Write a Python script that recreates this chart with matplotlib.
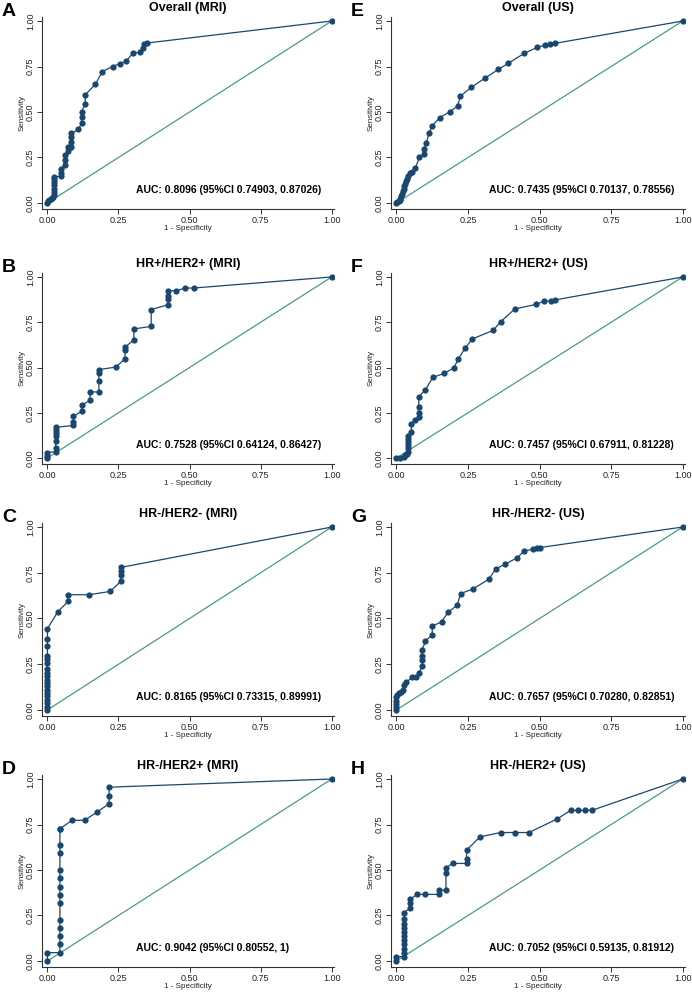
import numpy as np
import matplotlib
matplotlib.use("Agg")
import matplotlib.pyplot as plt

plt.rcParams['font.family'] = ['Liberation Sans', 'DejaVu Sans']

# ROC points (1 - specificity, sensitivity)
a_fpr = [0, 0.002, 0.007, 0.012, 0.016, 0.021, 0.023, 0.023, 0.023, 0.023, 0.023, 0.023, 0.023,
         0.047, 0.047, 0.047, 0.061, 0.061, 0.061, 0.074, 0.074, 0.084, 0.084, 0.084, 0.084,
         0.109, 0.120, 0.120, 0.120, 0.133, 0.133, 0.169, 0.193, 0.229, 0.254, 0.277, 0.301,
         0.325, 0.336, 0.339, 0.350, 1]
a_tpr = [0, 0.009, 0.015, 0.022, 0.029, 0.033, 0.042, 0.061, 0.079, 0.097, 0.116, 0.131, 0.143,
         0.147, 0.165, 0.186, 0.208, 0.235, 0.263, 0.285, 0.309, 0.309, 0.336, 0.364, 0.382,
         0.404, 0.438, 0.474, 0.502, 0.544, 0.594, 0.653, 0.722, 0.750, 0.765, 0.779, 0.824,
         0.829, 0.851, 0.873, 0.879, 1]

b_fpr = [0, 0, 0, 0.029, 0.029, 0.029, 0.029, 0.029, 0.029, 0.029, 0.091, 0.091, 0.091,
         0.120, 0.120, 0.150, 0.150, 0.181, 0.181, 0.181, 0.181, 0.242, 0.273, 0.273, 0.273,
         0.304, 0.304, 0.365, 0.365, 0.425, 0.425, 0.425, 0.425, 0.454, 0.483, 0.515, 1]
b_tpr = [0, 0.013, 0.030, 0.035, 0.055, 0.092, 0.120, 0.138, 0.157, 0.169, 0.180, 0.199, 0.230,
         0.258, 0.291, 0.319, 0.365, 0.365, 0.424, 0.470, 0.488, 0.503, 0.549, 0.599, 0.611,
         0.654, 0.713, 0.727, 0.820, 0.847, 0.878, 0.893, 0.924, 0.924, 0.939, 0.939, 1]

c_fpr = [0] * 19 + [0.037, 0.073, 0.073, 0.147, 0.221, 0.258, 0.258, 0.258, 0.258, 1]
c_tpr = [0, 0.018, 0.037, 0.055, 0.074, 0.092, 0.111, 0.129, 0.148, 0.166, 0.185, 0.203,
         0.222, 0.259, 0.277, 0.296, 0.352, 0.389, 0.444,
         0.538, 0.593, 0.630, 0.630, 0.648, 0.703, 0.739, 0.757, 0.779, 1]

d_fpr = [0, 0, 0.044, 0.044, 0.044, 0.044, 0.044, 0.044, 0.044, 0.044, 0.044, 0.044, 0.044,
         0.044, 0.044, 0.044, 0.087, 0.131, 0.174, 0.217, 0.217, 0.217, 1]
d_tpr = [0, 0.046, 0.046, 0.091, 0.136, 0.182, 0.227, 0.318, 0.364, 0.409, 0.455, 0.500,
         0.591, 0.636, 0.727, 0.727, 0.773, 0.773, 0.818, 0.864, 0.909, 0.955, 1]

e_fpr = [0, 0.0035, 0.008, 0.012, 0.014, 0.0175, 0.020, 0.022, 0.026, 0.028, 0.0315, 0.034,
         0.037, 0.041, 0.049, 0.055, 0.0665, 0.0805, 0.096, 0.096, 0.105, 0.113, 0.125,
         0.1505, 0.1855, 0.2135, 0.223, 0.261, 0.309, 0.356, 0.390, 0.446, 0.492, 0.518,
         0.536, 0.553, 1]
e_tpr = [0, 0.0055, 0.009, 0.015, 0.024, 0.037, 0.051, 0.066, 0.079, 0.094, 0.106, 0.119,
         0.134, 0.147, 0.165, 0.171, 0.193, 0.253, 0.268, 0.295, 0.332, 0.382, 0.424,
         0.468, 0.501, 0.532, 0.587, 0.635, 0.686, 0.734, 0.767, 0.822, 0.855, 0.868,
         0.875, 0.877, 1]

f_fpr = [0, 0.014, 0.026, 0.029, 0.037, 0.040, 0.040, 0.040, 0.040, 0.040, 0.040, 0.0525,
         0.0525, 0.0665, 0.078, 0.078, 0.078, 0.078, 0.1015, 0.127, 0.166, 0.201, 0.215,
         0.239, 0.265, 0.338, 0.364, 0.414, 0.489, 0.516, 0.539, 0.553, 1]
f_tpr = [0, 0, 0.005, 0.018, 0.024, 0.036, 0.055, 0.073, 0.091, 0.105, 0.124, 0.145,
         0.187, 0.209, 0.224, 0.251, 0.282, 0.336, 0.378, 0.445, 0.467, 0.498, 0.545,
         0.605, 0.658, 0.705, 0.753, 0.824, 0.849, 0.867, 0.867, 0.873, 1]

g_fpr = [0, 0, 0, 0, 0, 0.002, 0.0105, 0.016, 0.023, 0.026, 0.035, 0.055, 0.069, 0.078,
         0.090, 0.090, 0.090, 0.090, 0.1015, 0.125, 0.125, 0.1575, 0.180, 0.212, 0.224,
         0.268, 0.323, 0.3465, 0.379, 0.4225, 0.446, 0.478, 0.490, 0.502, 1]
g_tpr = [0, 0.015, 0.033, 0.051, 0.069, 0.084, 0.091, 0.097, 0.110, 0.139, 0.152, 0.179,
         0.179, 0.201, 0.238, 0.274, 0.294, 0.329, 0.377, 0.411, 0.459, 0.481, 0.534, 0.572,
         0.636, 0.662, 0.715, 0.770, 0.797, 0.832, 0.870, 0.878, 0.888, 0.888, 1]

h_fpr = [0, 0, 0.026, 0.026, 0.026, 0.026, 0.026, 0.026, 0.026, 0.026, 0.026, 0.026, 0.026,
         0.049, 0.049, 0.049, 0.0735, 0.099, 0.148, 0.148, 0.173, 0.173, 0.173, 0.196,
         0.245, 0.245, 0.245, 0.292, 0.364, 0.414, 0.463, 0.562, 0.609, 0.634, 0.657,
         0.683, 1]
h_tpr = [0, 0.024, 0.024, 0.046, 0.068, 0.091, 0.113, 0.137, 0.159, 0.183, 0.205, 0.229,
         0.265, 0.293, 0.316, 0.342, 0.366, 0.366, 0.366, 0.389, 0.389, 0.484, 0.512, 0.536,
         0.536, 0.561, 0.609, 0.682, 0.706, 0.706, 0.706, 0.781, 0.828, 0.828, 0.828,
         0.828, 1]

letters = ['A', 'B', 'C', 'D', 'E', 'F', 'G', 'H']
titles = ['Overall (MRI)', 'HR+/HER2+ (MRI)', 'HR-/HER2- (MRI)', 'HR-/HER2+ (MRI)',
          'Overall (US)', 'HR+/HER2+ (US)', 'HR-/HER2- (US)', 'HR-/HER2+ (US)']
auc_text = ['AUC: 0.8096 (95%CI 0.74903, 0.87026)',
            'AUC: 0.7528 (95%CI 0.64124, 0.86427)',
            'AUC: 0.8165 (95%CI 0.73315, 0.89991)',
            'AUC: 0.9042 (95%CI 0.80552, 1)',
            'AUC: 0.7435 (95%CI 0.70137, 0.78556)',
            'AUC: 0.7457 (95%CI 0.67911, 0.81228)',
            'AUC: 0.7657 (95%CI 0.70280, 0.82851)',
            'AUC: 0.7052 (95%CI 0.59135, 0.81912)']
fprs = [a_fpr, b_fpr, c_fpr, d_fpr, e_fpr, f_fpr, g_fpr, h_fpr]
tprs = [a_tpr, b_tpr, c_tpr, d_tpr, e_tpr, f_tpr, g_tpr, h_tpr]
ticks = [0, 0.25, 0.5, 0.75, 1]
tick_labels = ['0.00', '0.25', '0.50', '0.75', '1.00']

W, H = 692, 992
navy = '#1a476f'
teal = '#4a9a86'
axcol = '#333333'

fig = plt.figure(figsize=(W / 100, H / 100), dpi=100)

# pixel frame of each axes: (left, top, right, bottom)
col_x = [(42, 334), (391, 685)]
row_y = [(17, 209), (273, 464), (523, 716), (775, 967)]

for i in range(8):
    col, row = i // 4, i % 4
    x0, x1 = col_x[col]
    y0, y1 = row_y[row]
    ax = fig.add_axes([x0 / W, 1 - y1 / H, (x1 - x0) / W, (y1 - y0) / H])
    ax.plot([0, 1], [0, 1], color=teal, lw=0.9, zorder=1)
    ax.plot(fprs[i], tprs[i], color=navy, lw=0.9, marker='o', ms=4.5,
            markeredgewidth=0, zorder=2)
    ax.set_xlim(-0.019, 1.008)
    ax.set_ylim(-0.033, 1.022)
    for s in ['top', 'right']:
        ax.spines[s].set_visible(False)
    for s in ['left', 'bottom']:
        ax.spines[s].set_color(axcol)
        ax.spines[s].set_linewidth(0.8)
    ax.set_xticks(ticks)
    ax.set_xticklabels(tick_labels)
    ax.set_yticks(ticks)
    ax.set_yticklabels(tick_labels, rotation=90, va='center')
    ax.tick_params(labelsize=6.5, length=3.5, width=0.7, color=axcol,
                   labelcolor='#222222', pad=1.5)
    ax.set_xlabel('1 - Specificity', fontsize=5.8, color='#222222', labelpad=0)
    ax.set_ylabel('Sensitivity', fontsize=5.8, color='#222222', labelpad=0)
    ax.set_title(titles[i], fontsize=9, fontweight='bold', pad=4)
    tx = 0.313 if col == 0 else 0.322
    ax.text(tx, 0.07, auc_text[i], fontsize=7.5, fontweight='bold', ha='left',
            va='center', transform=ax.transData)
    fig.text((2 + col * 349) / W, 1 - (y0 - 5) / H, letters[i], fontsize=14,
             fontweight='bold', ha='left', va='center')

fig.savefig('out.png', dpi=100)
